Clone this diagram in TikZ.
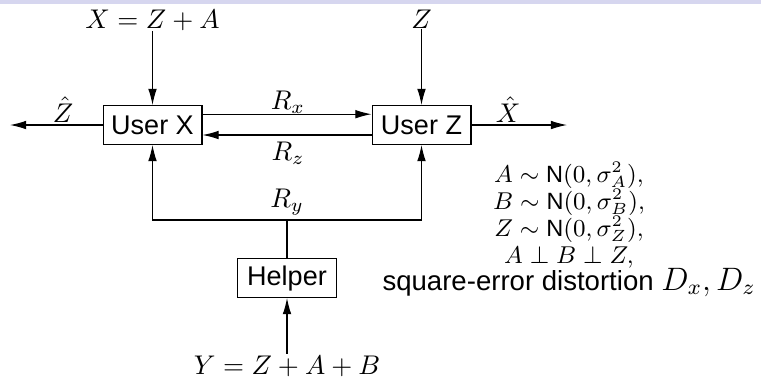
\documentclass[tikz,border=0pt]{standalone}
\usepackage{amsmath}
\usepackage{fontspec}
\setsansfont{Liberation Sans}
\usetikzlibrary{arrows.meta}
\definecolor{barcol}{RGB}{214,214,239}

\begin{document}
\begin{tikzpicture}[x=0.37pt, y=-0.37pt,
  box/.style={draw, black, font=\sffamily, minimum width=36.6pt, minimum height=14.4pt, inner sep=1pt},
  lab/.style={inner sep=0pt},
  arr/.style={-{Latex[length=\l, width=\w]}}]
\def\l{6pt}
\def\w{3.2pt}

\useasboundingbox (0,0) rectangle (761,376);
\fill[barcol] (0,0) rectangle (761,3.5);

\node [box, name=ux]      at (152.5,125) {User X};
\node [box, name=uz]      at (421.5,125) {User Z};
\node [box, name=hp]      at (287,278) {Helper};

\node [lab, anchor=base, name=lx]      at (152.5,28) {$X=Z+A$};
\node [lab, anchor=base, name=lz]      at (421.5,28) {$Z$};
\node [lab, anchor=base, inner sep=0.5pt, name=ly]      at (287,374) {$Y=Z+A+B$};
\node [lab, anchor=base, name=zh]      at (63,122) {$\hat{Z}$};
\node [lab, anchor=base, name=xh]      at (508,122) {$\hat{X}$};
\node [lab, anchor=base, name=rx]      at (288,109) {$R_x$};
\node [lab, anchor=base, name=rz]      at (288,160) {$R_z$};
\coordinate (zo) at (10,125);
\coordinate (xo) at (567,125);
\coordinate (jn) at (287,220);
\node [lab, anchor=south, inner sep=1.5pt, name=ry]      at (jn) {$R_y$};

% distributions
\node [lab, anchor=north, align=center, font=\fontsize{8.7}{10}\selectfont, name=dist] at (569,161)
  {$A\sim\mathsf{N}(0,\sigma_A^2),$\\ $B\sim\mathsf{N}(0,\sigma_B^2),$\\ $Z\sim\mathsf{N}(0,\sigma_Z^2),$\\ $A\perp B\perp Z,$};
\node [lab, anchor=base west, font=\fontsize{10.2}{12}\sffamily, name=sq] at (382,290) {square-error distortion \fontsize{12}{14}\selectfont$D_x, D_z$};

\draw [arr](lx.south) to (ux.north);
\draw [arr](lz.south) to (uz.north);
\draw [arr](ux.west) to (zo);
\draw [arr](uz.east) to (xo);
\draw [arr]([yshift=4pt]ux.east) to ([yshift=4pt]uz.west);
\draw [arr]([yshift=-3.7pt]uz.west) to ([yshift=-3.7pt]ux.east);
\draw (hp.north) to (jn);
\draw [arr](jn) -| (ux.south);
\draw [arr](jn) -| (uz.south);
\draw [arr](ly.north) to (hp.south);
\end{tikzpicture}
\end{document}
